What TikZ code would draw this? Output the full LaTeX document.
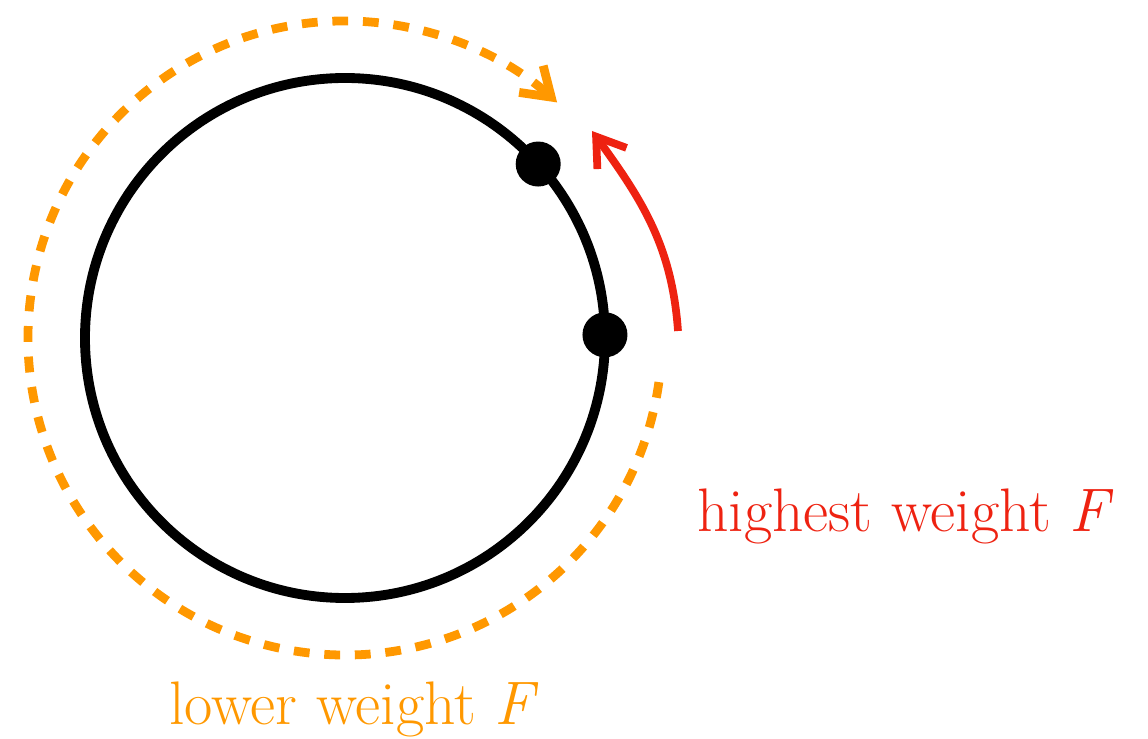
\documentclass[tikz,border=0pt]{standalone}
\usepackage{tikz}
\usetikzlibrary{arrows.meta,calc,positioning}
\definecolor{wtorange}{RGB}{255,152,0}
\definecolor{wtred}{RGB}{238,34,17}

\begin{document}
\begin{tikzpicture}[scale=1.0,>={Straight Barb[length=0.27cm,width=0.36cm]},
    lbl/.style={font=\fontsize{17.5}{21}\selectfont,anchor=base,inner sep=0pt}]
    \useasboundingbox (-3.45,-4.01) rectangle (8.03,3.38);
    \coordinate (o) at (0,0);
    \draw[line width=2.8pt] (o) circle (2.6);
    \coordinate (a) at (42:2.6);
    \coordinate (b) at (0.7:2.6);
    \fill (a) circle (0.225);
    \fill (b) circle (0.225);
    % lower weight: dashed arc round the outside
    \draw[wtorange,line width=2.5pt,dash pattern=on 4.5pt off 4.2pt,->]
        (-8:3.17) arc (-8:-312:3.17);
    % highest weight
    \coordinate (r0) at (3.33,0.07);
    \coordinate (r1) at (2.47,2.07);
    \draw[wtred,line width=2.2pt,->] (r0) to[out=94,in=-54] (r1);
    \node[lbl,text=wtred] (hw) at (5.605,-1.94) {highest weight \textit{F}};
    \node[lbl,text=wtorange] (lw) at (0.09,-3.87) {lower weight \textit{F}};
\end{tikzpicture}
\end{document}
